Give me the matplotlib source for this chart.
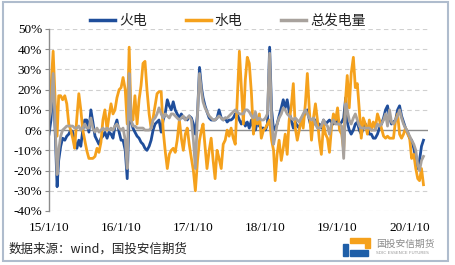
import calendar
import datetime as dt
import matplotlib
matplotlib.use("Agg")
import matplotlib.pyplot as plt
import matplotlib.dates as mdates
from matplotlib.patches import Rectangle, Polygon

# ---------------- data (10-day / 旬 YoY growth, %) ----------------
thermal = [  # 火电
    -2, 5, 25, 0, -28, -15, -8, -4, -5, -3, -2, 0, -1, -5, -9, -5, -8, 0, 5, 5,
    -1, 10, 4, -3, -5, -7, -4, -3, -1, -4, -1, -2, -4, 2, 5, -1, -5, -5, -10, -24,
    8, 5, 1, -1, -3, -4, -6, -7, -9, -10, -8, -5, 0, 3, 4, 5, -1, 5, 8, 15,
    12, 10, 14, 10, 8, 6, 8, 6, 6, 5, 7, 6, 3, -2, 8, 31, 21, 16, 12, 9,
    6, 5, 5, 5, 6, 10, 6, 5, 6, 4, 5, 5, 6, 8, 8, 5, 3, 5, 2, 4,
    1, 5, 1, 0, 4, 2, 1, 1, 0, 3, 41, 10, 0, 1, 3, 7, 11, 15, 11, 15,
    9, 5, 1, 4, 2, 1, 5, 6, 9, 10, 5, 1, 3, 5, 2, 3, 1, 5, 3, 4,
    5, 4, 3, 4, 5, 3, 4, 6, 16, 4, 0, -2, 0, 3, 4, 0, -2, 1, 3, 1,
    -2, -2, -4, -4, -2, 1, 3, 6, 10, 12, 6, 3, 4, 5, 10, 12, 7, 4, 1, -1,
    -4, -5, -9, -14, -19, -15, -8, -5,
]
hydro = [  # 水电
    8, 21, 39, 15, -3, 17, 17, 15, 17, 13, 3, 0, -4, -9, 6, 18, 10, 0, -5, -10,
    -14, -14, -14, -13, -9, -11, -6, 5, 10, 0, 7, 13, 8, 10, 16, 20, 21, 26, 20, 3,
    41, 8, 5, 17, 3, 15, 22, 33, 34, 20, 8, 1, 6, 12, 18, 19, 19, 0, -10, -19,
    -12, -10, -9, -11, -5, 5, -4, -10, -2, 1, -7, -14, -20, -30, -15, -5, 0, 3, -8, -19,
    -10, -4, -15, -24, -10, -14, -19, -7, -5, 0, -3, 1, -4, -7, 15, 39, 21, 3, 25, 36,
    33, 18, -2, 6, 3, 8, -4, 0, 1, 3, 5, -5, -10, -25, -12, -5, -15, -9, -2, -12,
    5, 11, 23, 1, -5, 0, 6, 1, 13, 28, 10, -5, 6, 13, 5, -5, -12, 3, -2, -4,
    -11, 1, 8, 5, 11, 0, -2, -10, 16, 27, 11, 28, 36, 21, 23, 10, -4, 6, 3, -2,
    5, 0, 4, 1, 8, 5, 1, -3, -4, -3, -4, -4, -4, 5, 8, -2, -4, -2, 1, -2,
    -4, -14, -12, -19, -24, -25, -19, -27,
]
total = [  # 总发电量
    5, 10, 28, 3, -22, -10, -3, 0, 1, 2, 2, 2, 2, 1, 1, 2, 0, 1, 3, 1,
    1, 6, 1, -1, 1, -1, 0, 1, 0, 1, 0, 1, 0, 2, 3, 1, 0, 1, -5, -19,
    28, 5, 2, 2, 1, 1, 1, 1, 0, 0, 0, 1, 5, 6, 8, 11, 8, 6, 8, 7,
    6, 8, 8, 7, 6, 5, 6, 7, 5, 6, 7, 5, -5, -19, 8, 28, 19, 14, 11, 9,
    7, 6, 5, 5, 6, 7, 6, 5, 6, 6, 7, 8, 9, 10, 9, 8, 8, 8, 10, 10,
    9, 7, 6, 9, 5, 6, 5, 5, 6, 8, 38, 5, -7, -3, 3, 6, 8, 11, 10, 8,
    7, 6, 5, 6, 5, 4, 6, 8, 10, 8, 6, 5, 6, 3, 1, 1, 2, 5, 3, 2,
    -2, 3, 5, 3, 3, 3, 2, -14, 13, 10, 5, 3, 6, 8, 5, 2, 1, 1, 1, 1,
    1, 0, 0, 0, 3, 2, 3, 5, 8, 2, 10, 4, 3, 5, 7, 10, 6, 3, 1, -1,
    -3, -5, -7, -10, -17, -20, -15, -13,
]
series_names = ["火电", "水电", "总发电量"]
year_ticks = [2015, 2016, 2017, 2018, 2019, 2020]
tick_labels = ["15/1/10", "16/1/10", "17/1/10", "18/1/10", "19/1/10", "20/1/10"]
y_ticks = [-40, -30, -20, -10, 0, 10, 20, 30, 40, 50]

# dekad dates (10th, 20th, month end) starting 2015-01-10
dates = []
for yy in range(2015, 2021):
    for mm in range(1, 13):
        last = calendar.monthrange(yy, mm)[1]
        for dd in (10, 20, last):
            dates.append(dt.date(yy, mm, dd))
n = len(thermal)
dates = dates[:n]

colors = ["#1F4E9B", "#F5A11C", "#A8A29D"]

plt.rcParams["font.family"] = ["Noto Sans CJK SC", "DejaVu Sans"]

fig = plt.figure(figsize=(4.55, 2.65), dpi=100)
fig.patch.set_facecolor("white")
ax = fig.add_axes([0.1077, 0.2038, 0.8330, 0.6868])

for vals, col, name in zip([thermal, hydro, total], colors, series_names):
    ax.plot(dates, vals, color=col, lw=2.0, label=name, solid_joinstyle="round")

ax.set_ylim(-40, 50)
ax.set_xlim(mdates.date2num(dt.date(2015, 1, 10)), mdates.date2num(dt.date(2020, 4, 12)))
ax.set_yticks(y_ticks)
ax.set_yticklabels([f"{v}%" for v in y_ticks], family="Liberation Serif", fontsize=9.5)
ax.set_xticks([mdates.date2num(dt.date(y, 1, 10)) for y in year_ticks])
ax.set_xticklabels(tick_labels, family="Liberation Serif", fontsize=9.5)
ax.tick_params(axis="x", length=0, pad=8)
ax.tick_params(axis="y", length=3, color="#8C8C8C", pad=2)

for v in y_ticks:
    if v != 0:
        ax.axhline(v, color="#D0D0D0", lw=0.8, ls=(0, (4, 3)), zorder=0)
ax.axhline(0, color="#8C8C8C", lw=1.0, zorder=0.5)

for s in ["top", "right", "bottom"]:
    ax.spines[s].set_visible(False)
ax.spines["left"].set_color("#8C8C8C")
ax.spines["left"].set_linewidth(1.0)

leg = fig.legend(*ax.get_legend_handles_labels(), loc="center",
                 bbox_to_anchor=(228 / 455, 1 - 21 / 265), ncol=3, frameon=False,
                 fontsize=10, handlelength=1.8, columnspacing=2.8, handletextpad=0.3,
                 borderaxespad=0.0, borderpad=0.0)
for t in leg.get_texts():
    t.set_color("#222222")
for h in leg.get_lines():
    h.set_linewidth(2.5)

# footer
fig.text(0.018, 0.058, "数据来源：wind，国投安信期货", fontsize=9, color="#222222",
         ha="left", va="center")

# logo (approximate)
fig.patches.append(Rectangle((343 / 455, 1 - 256 / 265), 5 / 455, 12 / 265,
                             transform=fig.transFigure, color="#1F5FA8"))
fig.patches.append(Polygon([(350 / 455, 1 - 256 / 265), (368 / 455, 1 - 256 / 265),
                            (368 / 455, 1 - 250 / 265), (350 / 455, 1 - 250 / 265)],
                           closed=True, transform=fig.transFigure, color="#1F5FA8"))
fig.patches.append(Polygon([(350 / 455, 1 - 238 / 265), (370 / 455, 1 - 238 / 265),
                            (370 / 455, 1 - 248 / 265), (365 / 455, 1 - 248 / 265),
                            (365 / 455, 1 - 243 / 265), (350 / 455, 1 - 243 / 265)],
                           closed=True, transform=fig.transFigure, color="#F5A11C"))
fig.text(376 / 455, 1 - 244 / 265, "国投安信期货", fontsize=7, color="#8A8A8A",
         ha="left", va="center")
fig.text(376 / 455, 1 - 253 / 265, "SDIC ESSENCE FUTURES", fontsize=3.2, color="#9A9A9A",
         ha="left", va="center", family="DejaVu Sans")

# outer frame
fig.patches.append(Rectangle((3 / 455, 1 - 261 / 265), 445 / 455, 259 / 265,
                             transform=fig.transFigure, fill=False,
                             edgecolor="#AFBCCD", lw=1.5))

fig.savefig("out.png", dpi=100)
